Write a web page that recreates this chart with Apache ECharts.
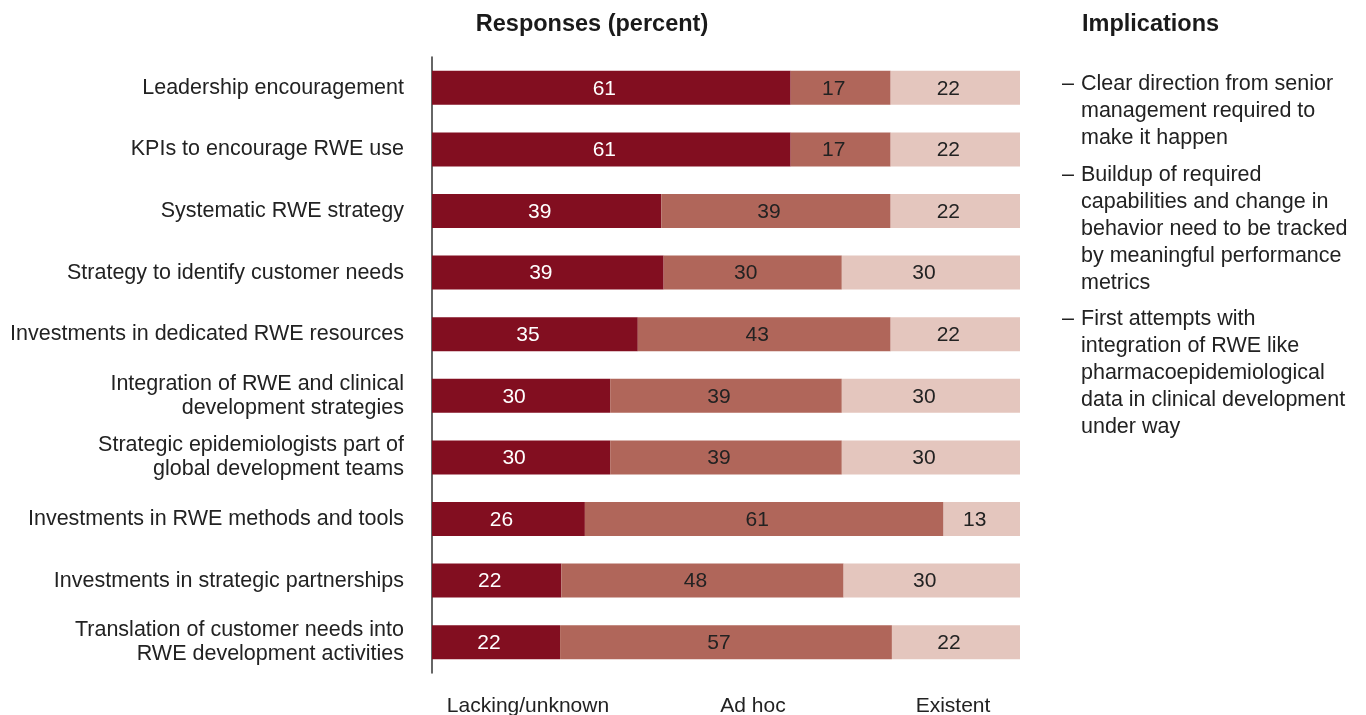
<!DOCTYPE html>
<html>
<head>
<meta charset="utf-8">
<script src="https://cdn.jsdelivr.net/npm/echarts@6/dist/echarts.min.js"></script>
<style>
  html, body { margin: 0; padding: 0; background: #fff; }
  #chart { width: 1366px; height: 715px; }
</style>
</head>
<body>
<div id="chart"></div>
<script>
// survey categories, top to bottom
const categories = [
  'Leadership encouragement',
  'KPIs to encourage RWE use',
  'Systematic RWE strategy',
  'Strategy to identify customer needs',
  'Investments in dedicated RWE resources',
  'Integration of RWE and clinical\ndevelopment strategies',
  'Strategic epidemiologists part of\nglobal development teams',
  'Investments in RWE methods and tools',
  'Investments in strategic partnerships',
  'Translation of customer needs into\nRWE development activities'
]

// responses in percent, as printed on the bars
const lacking  = [61, 61, 39, 39, 35, 30, 30, 26, 22, 22]
const adHoc    = [17, 17, 39, 30, 43, 39, 39, 61, 48, 57]
const existent = [22, 22, 22, 30, 22, 30, 30, 13, 30, 22]

const seriesNames = ['Lacking/unknown', 'Ad hoc', 'Existent']

const implications = [
  'Clear direction from senior\nmanagement required to\nmake it happen',
  'Buildup of required\ncapabilities and change in\nbehavior need to be tracked\nby meaningful performance\nmetrics',
  'First attempts with\nintegration of RWE like\npharmacoepidemiological\ndata in clinical development\nunder way'
]

const FONT = '"Liberation Sans", Arial, Helvetica, sans-serif'
const colors = ['#820e20', '#b0665a', '#e4c6be']
const labelColors = ['#ffffff', '#222222', '#222222']

// rows don't always add up to exactly 100, bars are drawn full width
const totals = categories.map((_, i) => lacking[i] + adHoc[i] + existent[i])

function makeSeries(raw, idx) {
  return {
    name: seriesNames[idx],
    type: 'bar',
    stack: 'all',
    barWidth: 34,
    data: raw.map((v, i) => v / totals[i] * 100),
    itemStyle: { color: colors[idx] },
    label: {
      show: true,
      position: 'inside',
      offset: [-7, 1],
      color: labelColors[idx],
      fontFamily: FONT,
      fontSize: 21,
      formatter: p => raw[p.dataIndex]
    },
    emphasis: { disabled: true },
    animation: false
  }
}

// implications panel as plain text blocks
const bulletTops = [71, 162, 306]
const implGraphics = []
implications.forEach((txt, i) => {
  implGraphics.push({
    type: 'text', left: 1062, top: bulletTops[i],
    style: { text: '–', font: '21.5px ' + FONT, fill: '#222', lineHeight: 27 }
  })
  implGraphics.push({
    type: 'text', left: 1081, top: bulletTops[i],
    style: { text: txt, font: '21.5px ' + FONT, fill: '#222', lineHeight: 27 }
  })
})

const bottomLabels = [
  { text: 'Lacking/unknown', x: 528 },
  { text: 'Ad hoc', x: 753 },
  { text: 'Existent', x: 953 }
]

const chart = echarts.init(document.getElementById('chart'))
chart.setOption({
  backgroundColor: '#fff',
  animation: false,
  grid: { left: 432, right: 346, top: 57, bottom: 42 },
  xAxis: {
    type: 'value', min: 0, max: 100, show: false
  },
  yAxis: {
    type: 'category',
    inverse: true,
    data: categories,
    axisTick: { show: false },
    axisLine: { show: true, lineStyle: { color: '#333', width: 1.5 } },
    axisLabel: {
      margin: 28,
      fontFamily: FONT,
      fontSize: 21.5,
      color: '#222',
      lineHeight: 24,
      align: 'right'
    }
  },
  series: [
    makeSeries(lacking, 0),
    makeSeries(adHoc, 1),
    makeSeries(existent, 2)
  ],
  graphic: [
    {
      type: 'text', x: 592, y: 25,
      style: {
        text: 'Responses (percent)', font: 'bold 23.5px ' + FONT,
        fill: '#1a1a1a', align: 'center', verticalAlign: 'middle'
      }
    },
    {
      type: 'text', x: 1082, y: 25,
      style: {
        text: 'Implications', font: 'bold 23.5px ' + FONT,
        fill: '#1a1a1a', align: 'left', verticalAlign: 'middle'
      }
    },
    ...bottomLabels.map(b => ({
      type: 'text', x: b.x, y: 706,
      style: {
        text: b.text, font: '21px ' + FONT, fill: '#222',
        align: 'center', verticalAlign: 'middle'
      }
    })),
    ...implGraphics
  ]
})
</script>
</body>
</html>
